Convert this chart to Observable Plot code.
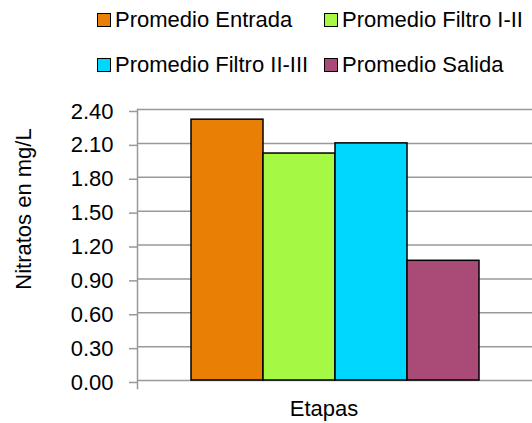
<!DOCTYPE html>
<html>
<head>
<meta charset="utf-8">
<script src="https://cdn.jsdelivr.net/npm/d3@7"></script>
<script src="https://cdn.jsdelivr.net/npm/@observablehq/plot@0.6"></script>
<style>
  body { margin: 0; background: #fff; font-family: "Liberation Sans", Arial, sans-serif; }
  #legend { position: relative; width: 532px; height: 90px; box-sizing: border-box; padding: 5px 0 0 97px;
    display: grid; grid-template-columns: 227px auto; grid-auto-rows: 30px; row-gap: 15px; }
  .item { display: flex; align-items: center; font-size: 22px; color: #000; white-space: nowrap; }
  .sw { width: 14px; height: 14px; box-sizing: border-box; border: 1.5px solid #000; margin-right: 4px; flex: none; }
</style>
</head>
<body>
<div id="legend"></div>
<div id="chart"></div>
<script>
const stage = ["Etapas"];
const series = ["Promedio Entrada", "Promedio Filtro I-II", "Promedio Filtro II-III", "Promedio Salida"];
const values = [2.31, 2.01, 2.10, 1.06];
const colors = ["#EA7F05", "#A6F943", "#00D7FF", "#A94A77"];
const yTicks = [0, 0.3, 0.6, 0.9, 1.2, 1.5, 1.8, 2.1, 2.4];
const yLabel = "Nitratos en mg/L";

const data = series.map((s, i) => ({stage: stage[0], series: s, value: values[i]}));

const legend = document.getElementById("legend");
series.forEach((s, i) => {
  const it = document.createElement("div");
  it.className = "item";
  const sw = document.createElement("span");
  sw.className = "sw";
  sw.style.background = colors[i];
  it.appendChild(sw);
  it.appendChild(document.createTextNode(s));
  legend.appendChild(it);
});

const chart = Plot.plot({
  width: 532,
  height: 333,
  marginTop: 19,
  marginBottom: 43,
  marginLeft: 137,
  marginRight: 0,
  style: {fontFamily: "'Liberation Sans', Arial, sans-serif", fontSize: "22px", color: "#000", background: "#fff"},
  y: {domain: [0, 2.4], label: null},
  x: {domain: series, paddingInner: 0, paddingOuter: 0.733, axis: null},
  fx: {domain: stage, padding: 0, label: null, axis: null},
  color: {domain: series, range: colors},
  marks: [
    Plot.gridY(yTicks, {stroke: "#999", strokeOpacity: 1, strokeWidth: 1.5}),
    Plot.frame({anchor: "left", stroke: "#999", strokeWidth: 1.5, insetBottom: -8}),
    Plot.axisY(yTicks, {tickSize: 8, tickPadding: 16, stroke: "#999", strokeWidth: 1.5, tickFormat: d => d.toFixed(2), dy: 2, label: null, fill: "#000"}),
    Plot.barY(data, {fx: "stage", x: "series", y: "value", fill: "series", stroke: "#000", strokeWidth: 1.5}),
    Plot.axisFx({anchor: "bottom", tickSize: 0, tickPadding: 20, label: null, dx: -11, fontSize: 22}),
    Plot.text([yLabel], {text: d => d, frameAnchor: "left", textAnchor: "middle", rotate: -90, dx: -114, dy: -36, fontSize: 22, fill: "#000"})
  ]
});
document.getElementById("chart").appendChild(chart);
</script>
</body>
</html>
